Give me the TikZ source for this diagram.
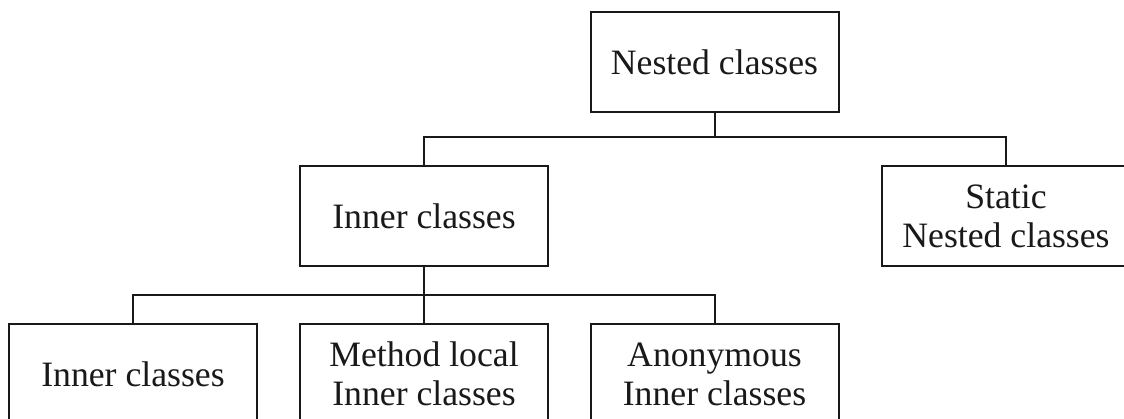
\documentclass[tikz,border=0pt]{standalone}
\usepackage{fontspec}
\setmainfont{Liberation Serif}
\begin{document}
\begin{tikzpicture}[x=1pt,y=-1pt,
  box/.style={draw=black!90, line width=2pt, minimum width=248pt, minimum height=100pt,
    inner sep=0pt, align=center, font=\fontsize{35.7}{39}\selectfont, text=black!90},
  conn/.style={draw=black!90, line width=2pt}]
\useasboundingbox (0,0) rectangle (1124,419);
\fill[white] (0,0) rectangle (1124,419);
\clip (0,0) rectangle (1124,419);
\node[box] (nested) at (714.5,62) {Nested classes};
\node[box] (inner) at (424,216) {Inner classes};
\node[box] (static) at (1006,216) {Static\\Nested classes};
\node[box] (ic) at (133,374) {Inner classes};
\node[box] (method) at (424,374) {Method local\\Inner classes};
\node[box] (anon) at (714.5,374) {Anonymous\\Inner classes};
\coordinate (j1) at (714.5,137);
\coordinate (j2) at (424,295);
\draw[conn] (nested.south) -- (j1);
\draw[conn] (inner.north) |- (j1) -| (static.north);
\draw[conn] (inner.south) -- (j2) -- (method.north);
\draw[conn] (ic.north) |- (j2) -| (anon.north);
\end{tikzpicture}
\end{document}
